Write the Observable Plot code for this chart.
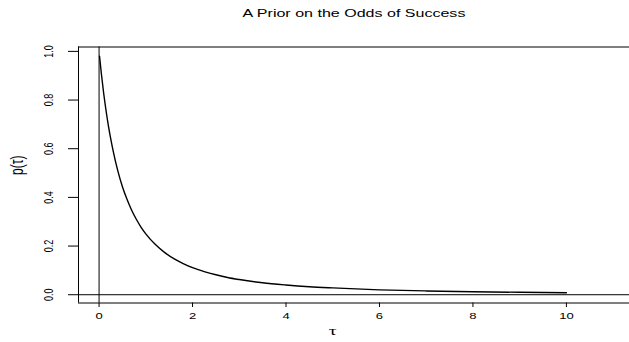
<!DOCTYPE html>
<html>
<head>
<meta charset="utf-8">
<script src="https://cdn.jsdelivr.net/npm/d3@7"></script>
<script src="https://cdn.jsdelivr.net/npm/@observablehq/plot@0.6"></script>
<style>
  html, body { margin: 0; padding: 0; background: white; }
</style>
</head>
<body>
<script>
const title = "A Prior on the Odds of Success";
const xLabel = "τ";
const yLabel = "p(τ)";
const xTicks = [0, 2, 4, 6, 8, 10];
const yTicks = [0, 0.2, 0.4, 0.6, 0.8, 1.0];
const xDomain = [-0.44, 11.35];
const yDomain = [-0.034, 1.018];
const tau = [0.01, 0.05, 0.1, 0.15, 0.2, 0.25, 0.3, 0.4, 0.5, 0.6, 0.7, 0.8, 0.9, 1, 1.2, 1.4, 1.6, 1.8, 2, 2.25, 2.5, 2.75, 3, 3.5, 4, 4.5, 5, 6, 7, 8, 9, 10];
const prob = [0.98, 0.907, 0.826, 0.756, 0.694, 0.640, 0.592, 0.510, 0.444, 0.391, 0.346, 0.309, 0.277, 0.250, 0.207, 0.174, 0.148, 0.128, 0.111, 0.095, 0.082, 0.071, 0.0625, 0.049, 0.040, 0.033, 0.028, 0.020, 0.0156, 0.0123, 0.0100, 0.0083];

const curve = tau.map((t, i) => ({tau: t, p: prob[i]}));
const xMid = (d3.min(xTicks) + d3.max(xTicks)) / 2;
const fmtY = d => d.toFixed(1);

const chart = Plot.plot({
  width: 629,
  height: 342,
  marginLeft: 78,
  marginRight: 0,
  marginTop: 46.5,
  marginBottom: 39.5,
  style: {fontFamily: "'Liberation Sans', Arial, sans-serif", background: "white", color: "black"},
  x: {domain: xDomain},
  y: {domain: yDomain},
  marks: [
    Plot.ruleX([xDomain[0]], {stroke: "black", strokeWidth: 1}),
    Plot.ruleY([yDomain[0], yDomain[1]], {stroke: "black", strokeWidth: 1}),
    Plot.ruleX([0], {stroke: "black", strokeWidth: 1}),
    Plot.ruleY([0], {stroke: "black", strokeWidth: 1}),
    Plot.line(curve, {x: "tau", y: "p", stroke: "black", strokeWidth: 1.4, curve: "monotone-x"}),
    Plot.axisX({ticks: xTicks, tickSize: 4.5, tickPadding: 5.5, fontSize: 9, label: null, tickFormat: d => String(d)}),
    Plot.axisY({ticks: yTicks, tickSize: 10, tickFormat: () => "", label: null}),
    Plot.text(yTicks, {y: d => d, text: fmtY, frameAnchor: "left", rotate: -90, dx: -29.5, fontSize: 9, textAnchor: "middle", lineAnchor: "middle"}),
    Plot.text([xLabel], {x: () => xMid, text: d => d, frameAnchor: "bottom", dy: 28, fontSize: 13, fontFamily: "'Liberation Serif', serif", lineAnchor: "middle"}),
    Plot.text([yLabel], {text: d => d, frameAnchor: "left", rotate: -90, dx: -61, fontSize: 12, lineAnchor: "middle"}),
    Plot.text([title], {text: d => d, frameAnchor: "top", dy: -33, fontSize: 10, lineAnchor: "middle"})
  ]
});

document.body.appendChild(chart);

// emulate the horizontally stretched lettering of the original
function stretch(el, sx, sy) {
  const b = el.getBBox();
  const cx = b.x + b.width / 2, cy = b.y + b.height / 2;
  const t = el.getAttribute("transform") || "";
  el.setAttribute("transform", `${t} translate(${cx},${cy}) scale(${sx},${sy}) translate(${-cx},${-cy})`);
}
const xTickStr = new Set(xTicks.map(String));
const yTickStr = new Set(yTicks.map(fmtY));
chart.querySelectorAll("text").forEach(el => {
  const s = el.textContent;
  if (s === title) {
    const w = el.getBBox().width;
    stretch(el, w > 0 ? 223 / w : 1.5, 1);
  } else if (s === yLabel) {
    stretch(el, 1, 1.5);
  } else if (s === xLabel) {
    stretch(el, 1.5, 1);
  } else if (yTickStr.has(s)) {
    stretch(el, 1, 1.5);
  } else if (xTickStr.has(s)) {
    stretch(el, 1.45, 1);
  }
});
</script>
</body>
</html>
